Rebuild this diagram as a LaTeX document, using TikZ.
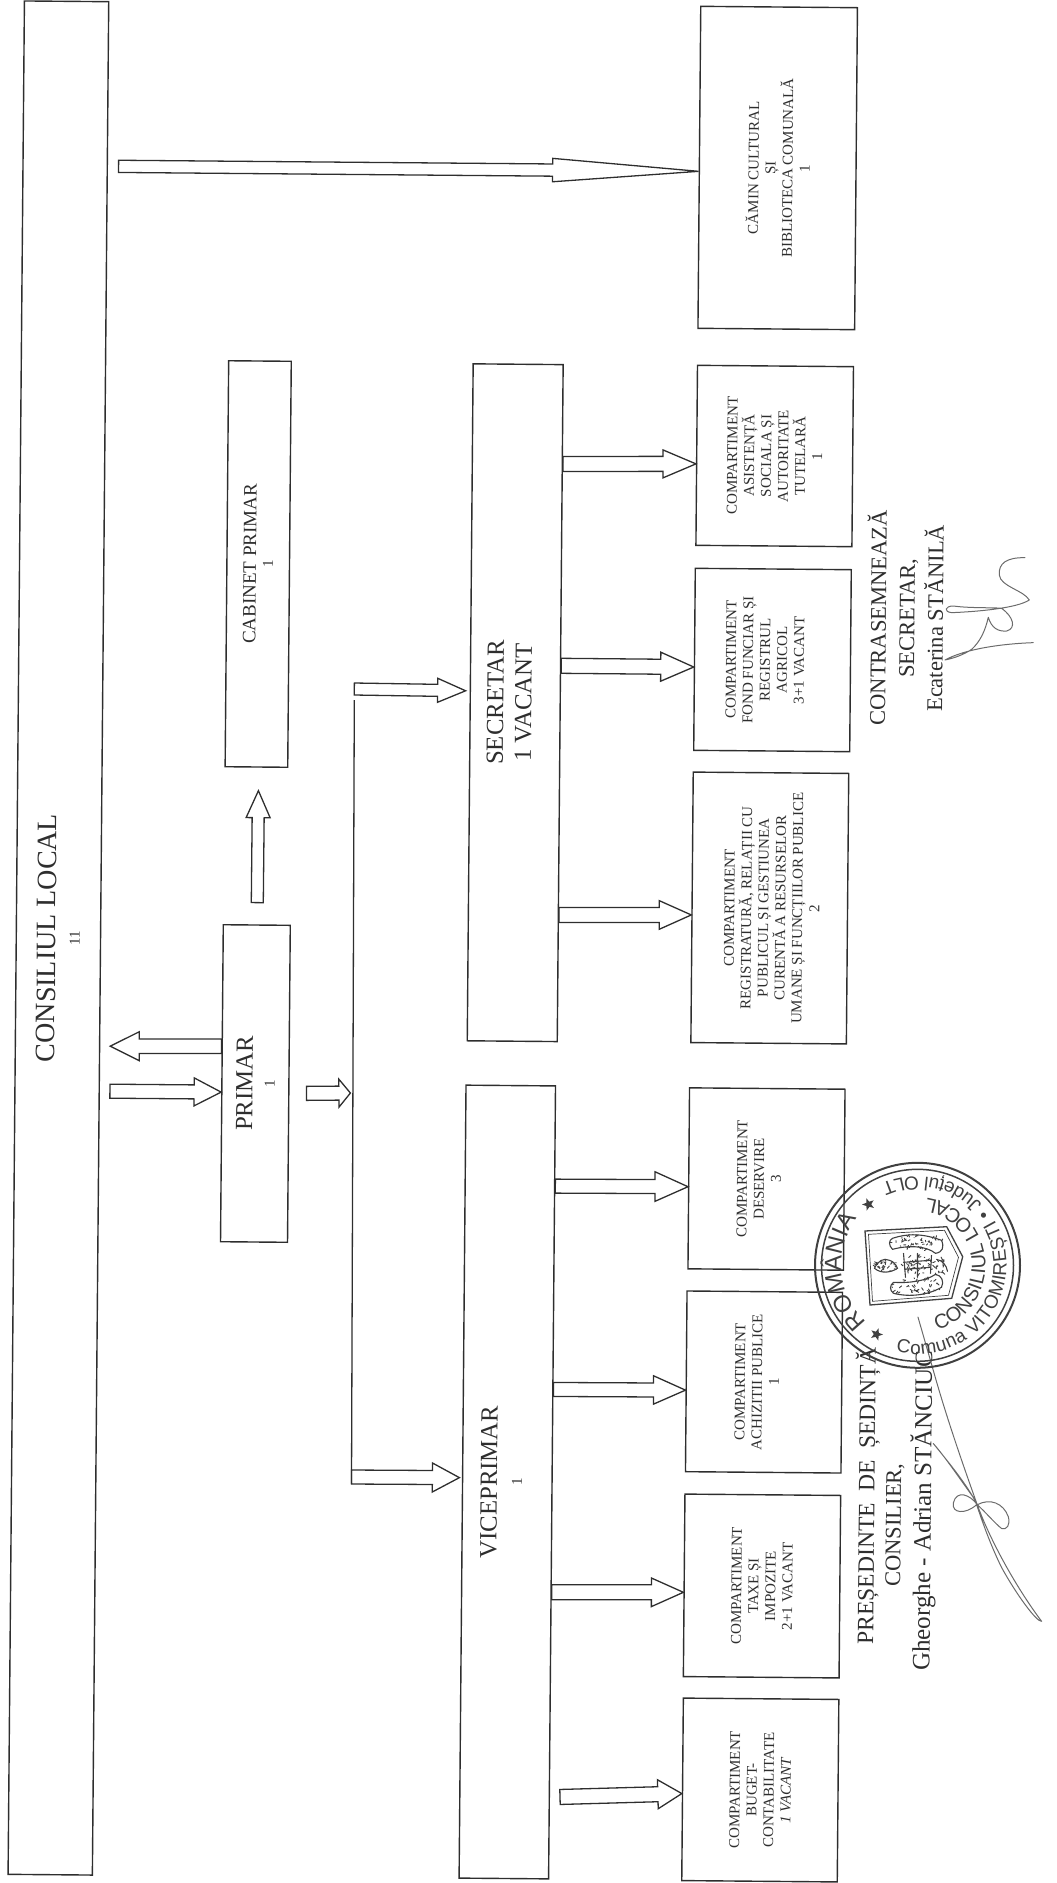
\documentclass[tikz,border=0pt]{standalone}
\usepackage{fontspec}
\setmainfont{Liberation Serif}
\newfontfamily\stampfamily{Liberation Sans}
\usetikzlibrary{calc,shapes.geometric,decorations.text}
\definecolor{inkc}{gray}{0.18}
\definecolor{stampc}{gray}{0.25}
\definecolor{penc}{gray}{0.42}
\newcommand{\smf}{\fontsize{15}{17}\selectfont}
\newcommand{\midf}{\fontsize{19}{20}\selectfont}
\newcommand{\bigf}{\fontsize{24.7}{28}\selectfont}
\newcommand{\sigf}{\fontsize{22.5}{28.5}\selectfont}
\newcommand{\stampf}[1]{\color{stampc}\stampfamily\fontsize{#1}{#1}\selectfont}
% block arrow: from, tip, shaft half width, head half width, head length
\newcommand{\blockarrow}[5]{%
  \coordinate (hb) at ($(#2)!#5pt!(#1)$);
  \draw[arrowst] ($(#1)!#3pt!90:(#2)$) -- ($(hb)!#3pt!90:(#2)$) -- ($(hb)!#4pt!90:(#2)$) -- (#2)
    -- ($(hb)!#4pt!-90:(#2)$) -- ($(hb)!#3pt!-90:(#2)$) -- ($(#1)!#3pt!-90:(#2)$) -- cycle;}
\tikzset{
  boxst/.style={draw=inkc,line width=1.4pt,rotate=89.5,inner sep=0pt,align=center,text=inkc,font=\smf},
  arrowst/.style={draw=inkc,line width=1.3pt,line join=miter},
  signst/.style={rotate=89.5,inner sep=0pt,align=center,text=inkc,font=\sigf},
  penst/.style={draw=penc,line width=1pt,line cap=round,line join=round},
  stampst/.style={draw=stampc,line width=1.3pt},
  starst/.style={star,star points=5,star point ratio=2.4,minimum size=13pt,inner sep=0pt,fill=stampc}
}
\begin{document}
\begin{tikzpicture}[x=1pt,y=-1pt]
\useasboundingbox (0,0) rectangle (1057,1883);
% boxes
\node[boxst,minimum width=1873.5pt,minimum height=84.3pt] (cons) at (58.4,938)
  {\fontsize{28}{29}\selectfont CONSILIUL LOCAL\\[7pt]\smf 11};
\node[boxst,minimum width=317pt,minimum height=67pt] (primar) at (255.4,1083.5)
  {\rule{0pt}{7pt}\bigf PRIMAR\\[5pt]\smf 1};
\node[boxst,minimum width=406pt,minimum height=62.6pt] (cabinet) at (258.2,564)
  {\midf CABINET PRIMAR\\\smf 1};
\node[boxst,minimum width=677pt,minimum height=90pt,font=\bigf] (secretar) at (515.2,702.7)
  {SECRETAR\\1 VACANT\rule[-12pt]{0pt}{0pt}};
\node[boxst,minimum width=793pt,minimum height=89.5pt] (vice) at (507.3,1482)
  {\bigf VICEPRIMAR\\[8pt]\smf 1\rule[-12pt]{0pt}{0pt}};
\node[boxst,minimum width=322pt,minimum height=156.7pt] (camin) at (777.7,168)
  {CĂMIN CULTURAL\\ȘI\\BIBLIOTECA COMUNALĂ\\1};
\node[boxst,minimum width=180pt,minimum height=156pt] (asist) at (774.7,456)
  {COMPARTIMENT\\ASISTENȚĂ\\SOCIALA ȘI\\AUTORITATE\\TUTELARĂ\\1};
\node[boxst,minimum width=182pt,minimum height=156pt] (fond) at (772.5,660)
  {COMPARTIMENT\\FOND FUNCIAR ȘI\\REGISTRUL\\AGRICOL\\3+1 VACANT\rule[-15pt]{0pt}{0pt}};
\node[boxst,minimum width=270.5pt,minimum height=155.5pt] (reg) at (769.8,908)
  {\rule{0pt}{14pt}COMPARTIMENT\\REGISTRATURĂ, RELAȚII CU\\PUBLICUL ȘI GESTIUNEA\\CURENTĂ A RESURSELOR\\UMANE ȘI FUNCȚIILOR PUBLICE\\2};
\node[boxst,minimum width=181pt,minimum height=155.5pt] (deserv) at (766.5,1179)
  {COMPARTIMENT\\DESERVIRE\\3\rule[-15pt]{0pt}{0pt}};
\node[boxst,minimum width=180.7pt,minimum height=155.5pt] (achiz) at (764,1382)
  {COMPARTIMENT\\ACHIZITII PUBLICE\\1\rule[-14pt]{0pt}{0pt}};
\node[boxst,minimum width=182.5pt,minimum height=155.7pt] (taxe) at (762,1586)
  {COMPARTIMENT\\TAXE ȘI\\IMPOZITE\\2+1 VACANT};
\node[boxst,minimum width=182.5pt,minimum height=155.5pt] (buget) at (760.3,1790)
  {COMPARTIMENT\\BUGET-\\CONTABILITATE\\\textit{1 VACANT}};
% distribution line
\coordinate (dlTop) at (354.3,700);
\coordinate (dlBot) at (351.5,1484);
\draw[arrowst] (dlTop) -- (dlBot);
% arrows
\coordinate (a1) at ($(cons.south west)!.9118!(cons.south east)+(10.6,0)$);
\coordinate (b1) at ($(camin.north west)!.4876!(camin.north east)$);
\blockarrow{a1}{b1}{6.1}{11.7}{146}
\coordinate (a2) at ($(primar.north west)!.616!(primar.north east)$);
\coordinate (b2) at ($(cons.south west)!.4425!(cons.south east)+(10,0)$);
\blockarrow{a2}{b2}{7.3}{14.5}{29}
\coordinate (a3) at ($(cons.south west)!.4185!(cons.south east)+(10,0)$);
\coordinate (b3) at ($(primar.north west)!.472!(primar.north east)$);
\blockarrow{a3}{b3}{7}{14}{27}
\coordinate (a4) at ($(primar.south west)!.47!(primar.south east)+(17,0)$);
\coordinate (b4) at ($(dlTop)!.5013!(dlBot)+(-2.5,0)$);
\blockarrow{a4}{b4}{7}{14}{11.5}
\coordinate (a5) at ($(primar.east)+(0.5,-21.7)$);
\coordinate (b5) at ($(cabinet.west)+(2,23)$);
\blockarrow{a5}{b5}{6}{12}{27}
\coordinate (a6) at (354.3,689);
\coordinate (b6) at ($(secretar.north west)!.517!(secretar.north east)+(-4,0)$);
\blockarrow{a6}{b6}{6}{12}{28}
\coordinate (a7) at (351.5,1477);
\coordinate (b7) at ($(vice.north west)!.505!(vice.north east)+(-2.5,0)$);
\blockarrow{a7}{b7}{7}{14.5}{27}
\coordinate (a8) at ($(secretar.south west)!.8526!(secretar.south east)$);
\coordinate (b8) at ($(asist.north west)!.4528!(asist.north east)$);
\blockarrow{a8}{b8}{7.5}{14}{33}
\coordinate (a9) at ($(secretar.south west)!.555!(secretar.south east)$);
\coordinate (b9) at ($(fond.north west)!.458!(fond.north east)$);
\blockarrow{a9}{b9}{7.5}{14.5}{33}
\coordinate (a10) at ($(secretar.south west)!.1876!(secretar.south east)$);
\coordinate (b10) at ($(reg.north west)!.472!(reg.north east)$);
\blockarrow{a10}{b10}{7.5}{14.3}{32}
\coordinate (a11) at ($(vice.south west)!.873!(vice.south east)$);
\coordinate (b11) at ($(deserv.north west)!.454!(deserv.north east)$);
\blockarrow{a11}{b11}{7}{14.8}{33}
\coordinate (a12) at ($(vice.south west)!.617!(vice.south east)$);
\coordinate (b12) at ($(achiz.north west)!.4516!(achiz.north east)$);
\blockarrow{a12}{b12}{7}{14.2}{32}
\coordinate (a13) at ($(vice.south west)!.3617!(vice.south east)$);
\coordinate (b13) at ($(taxe.north west)!.462!(taxe.north east)$);
\blockarrow{a13}{b13}{7.5}{14.3}{32}
\coordinate (a14) at ($(vice.south west)!.104!(vice.south east)+(10,0)$);
\coordinate (b14) at ($(buget.north west)!.477!(buget.north east)$);
\blockarrow{a14}{b14}{7.5}{14.5}{24}
% signature blocks
\node[signst] (contra) at (905,618) {CONTRASEMNEAZĂ\\SECRETAR,\\Ecaterina STĂNILĂ};
\node[signst,font=\fontsize{23.5}{28}\selectfont] (pres1) at (867,1496) {PREȘEDINTE\ \ DE\ \ ȘEDINȚĂ};
\node[signst] (pres2) at (895,1525) {CONSILIER,};
\node[signst,font=\fontsize{25}{28}\selectfont] (pres3) at (923,1511) {Gheorghe - Adrian STĂNCIUC};
% secretary's signature
\begin{scope}[shift={(730,500)},x=.3333pt,y=-.3333pt]
  \draw[penst] (885,173) .. controls (830,172) and (805,190) .. (808,225)
    .. controls (812,260) and (880,270) .. (898,300)
    .. controls (860,325) and (740,335) .. (665,338)
    .. controls (640,335) and (645,318) .. (670,318)
    .. controls (720,325) and (790,322) .. (815,325)
    .. controls (850,350) and (860,385) .. (830,393)
    .. controls (805,395) and (785,385) .. (775,352)
    .. controls (765,395) and (750,425) .. (725,448)
    .. controls (700,465) and (670,475) .. (645,480)
    .. controls (700,450) and (800,432) .. (910,428);
\end{scope}
% president's signature
\begin{scope}[shift={(640,1350)},x=.3333pt,y=-.34pt]
  \draw[penst] (834,-97) -- (880,60) .. controls (920,200) and (970,340) .. (1010,450)
    .. controls (1050,560) and (1130,700) .. (1205,798)
    .. controls (1190,800) and (1130,720) .. (1085,640)
    .. controls (1050,570) and (1025,500) .. (1005,440)
    .. controls (960,380) and (920,320) .. (880,275)
    .. controls (930,335) and (980,395) .. (1012,455)
    .. controls (1050,435) and (1090,450) .. (1105,490)
    .. controls (1112,515) and (1100,530) .. (1085,525)
    .. controls (1065,510) and (1040,480) .. (1012,455)
    .. controls (990,425) and (950,410) .. (940,450)
    .. controls (935,480) and (975,485) .. (1010,455);
\end{scope}
% stamp
\begin{scope}[shift={(917.5,1265.3)},x=1pt,y=1pt]
  \draw[stampst,line width=2pt] (0,0) circle (102.5);
  \draw[stampst,line width=1.5pt] (0,0) circle (96);
  \path[decorate,decoration={text along path,text align={fit to path},
    text={|\stampf{24}|ROMÂNIA}}] (228:76) arc (228:142:76);
  \path[decorate,decoration={text along path,text align={fit to path},
    text={|\stampf{19}|Comuna VITOMIREȘTI • Județul OLT}}] (256:89) arc (256:474:89);
  \path[decorate,decoration={text along path,text align={fit to path},
    text={|\stampf{20}|CONSILIUL LOCAL}}] (287:68) arc (287:442:68);
  \node[starst,rotate=20] (star1) at (-49,61) {};
  \node[starst,rotate=-20] (star2) at (-41,-69) {};
  % shield
  \draw[stampst] (-52.5,34.3) -- (29.2,38.6) -- (45.2,8.6) -- (34.2,-33) -- (-47.5,-39.7) -- cycle;
  \draw[stampst,line width=0.7pt] (-49,31) -- (27,35) -- (41,8) -- (31,-30) -- (-45,-36) -- cycle;
  % coat of arms
  \begin{scope}[draw=stampc,line width=1.1pt,line cap=round]
    \draw (-25,27) .. controls (-10,32) and (5,32) .. (24,25) .. controls (27,18) and (25,13) .. (18,12) .. controls (8,20) and (-10,20) .. (-25,16) .. controls (-29,20) and (-29,25) .. (-25,27);
    \draw (-24,-28) .. controls (-8,-32) and (10,-30) .. (24,-22) .. controls (27,-16) and (24,-10) .. (18,-9) .. controls (8,-16) and (-10,-18) .. (-24,-17) .. controls (-28,-20) and (-28,-25) .. (-24,-28);
    \draw (-14,12) -- (-12,-12) (14,10) -- (13,-8) (-14,3) -- (13,5) (-13,-4) -- (13,-2) (0,12) -- (0,-12);
    \draw (-28,5) .. controls (-34,8) and (-40,4) .. (-43,-3) .. controls (-36,-9) and (-26,-7) .. (-20,-3) .. controls (-22,2) and (-25,4) .. (-28,5);
    \draw (19,6) .. controls (25,5) and (29,0) .. (30,-6);
    \pgfmathsetseed{7}
    \foreach \cx/\cy/\rx/\ry/\n in {0/23/26/7/45,0/-21/26/8/45,-31/-1/12/7/30,0/0/15/11/45,22/-1/8/8/20}{
      \foreach \i in {1,...,\n}{
        \pgfmathsetmacro\aa{rnd*360}
        \pgfmathsetmacro\rr{sqrt(rnd)}
        \pgfmathsetmacro\ex{\cx+\rr*\rx*cos(\aa)}
        \pgfmathsetmacro\ey{\cy+\rr*\ry*sin(\aa)}
        \pgfmathsetmacro\dx{rnd*5-2.5}
        \pgfmathsetmacro\dy{rnd*5-2.5}
        \draw[line width=0.9pt] (\ex,\ey) -- ++(\dx,\dy);
      }
    }
  \end{scope}
\end{scope}
\end{tikzpicture}
\end{document}
